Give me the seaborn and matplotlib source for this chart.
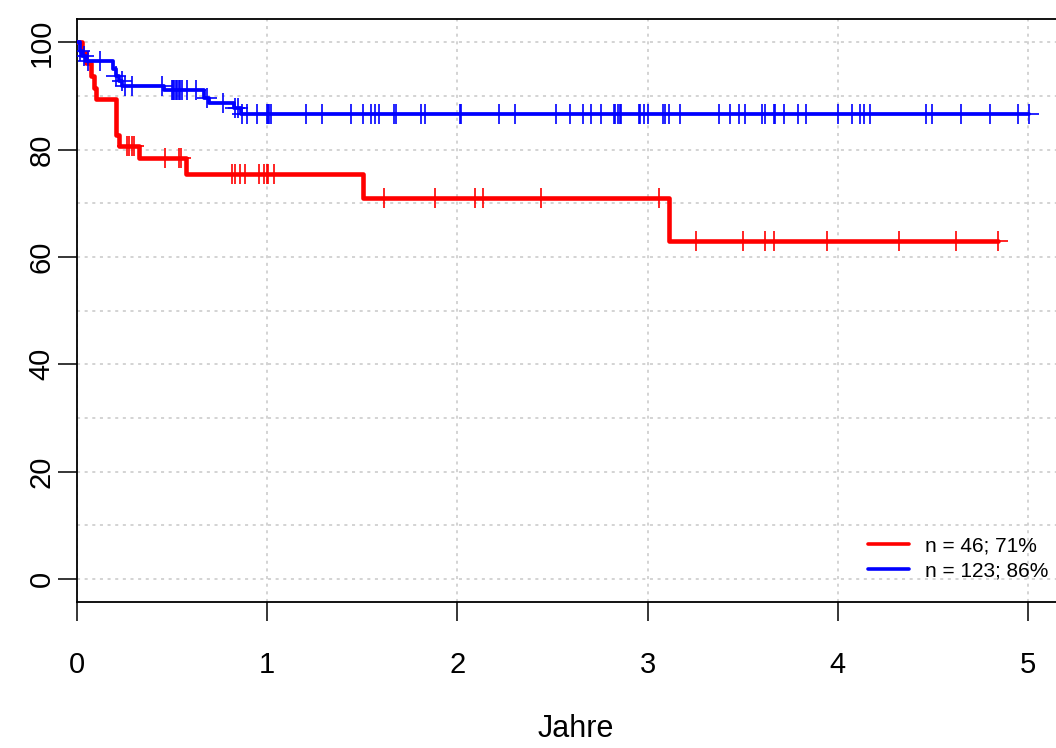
import numpy as np
import pandas as pd
import matplotlib
matplotlib.use("Agg")
import matplotlib.pyplot as plt
import seaborn as sns

# Kaplan-Meier Stufen (Zeit in Jahren, Überleben in %)
red_times = [0, 0.03, 0.047, 0.074, 0.09, 0.10, 0.205, 0.222, 0.327, 0.572, 1.503, 3.11]
red_surv = [100, 98.1, 96.2, 93.7, 91.5, 89.4, 82.8, 80.6, 78.5, 75.4, 71.0, 62.9]
red_cens = [0.266, 0.276, 0.289, 0.301, 0.464, 0.539, 0.55, 0.814, 0.832, 0.858, 0.884,
            0.958, 0.987, 0.998, 1.008, 1.036, 1.617, 1.882, 2.095, 2.136, 2.44, 3.058,
            3.254, 3.5, 3.618, 3.662, 3.942, 4.322, 4.622, 4.84]

blue_times = [0, 0.015, 0.03, 0.05, 0.19, 0.205, 0.22, 0.24, 0.46, 0.667, 0.695, 0.825, 0.866]
blue_surv = [100, 98.4, 97.5, 96.5, 95.0, 93.7, 92.8, 91.8, 91.1, 89.7, 88.7, 87.8, 86.7]
blue_cens = [0.02, 0.04, 0.06, 0.122, 0.209, 0.236, 0.253, 0.289, 0.447, 0.499, 0.507,
             0.514, 0.522, 0.529, 0.537, 0.545, 0.552, 0.578, 0.627, 0.686, 0.77, 0.832,
             0.849, 0.867, 0.893, 0.946, 0.998, 1.005, 1.012, 1.02, 1.203, 1.29, 1.44,
             1.503, 1.547, 1.57, 1.59, 1.667, 1.679, 1.807, 1.828, 2.012, 2.022, 2.218,
             2.302, 2.521, 2.594, 2.661, 2.703, 2.757, 2.822, 2.831, 2.843, 2.854, 2.862,
             2.953, 2.962, 2.979, 3.002, 3.081, 3.09, 3.11, 3.168, 3.374, 3.435, 3.478,
             3.513, 3.6, 3.618, 3.662, 3.671, 3.718, 3.79, 3.834, 3.999, 4.074, 4.118,
             4.139, 4.17, 4.464, 4.494, 4.646, 4.797, 4.949, 5.002]

labels = ["n = 46; 71%", "n = 123; 86%"]
colors = ["#ff0000", "#0000ff"]

sns.set_style("white")
plt.rcParams['font.family'] = ['Liberation Sans', 'DejaVu Sans']
plt.rcParams['text.color'] = 'black'
plt.rcParams['xtick.color'] = 'black'
plt.rcParams['ytick.color'] = 'black'
plt.rcParams['axes.labelcolor'] = 'black'


def km_curve(times, surv, cens):
    # Stufenfunktion bis zur letzten Zensur verlängern
    t_end = max(max(cens), times[-1])
    df = pd.DataFrame({"t": times + [t_end], "s": surv + [surv[-1]]})
    idx = np.searchsorted(times, cens, side="right") - 1
    dc = pd.DataFrame({"t": cens, "s": np.array(surv)[idx]})
    return df, dc


fig = plt.figure(figsize=(10.56, 7.48), dpi=100)
ax = fig.add_axes([0.0726, 0.1952, 0.9461, 0.779])

groups = [(red_times, red_surv, red_cens, 3.3), (blue_times, blue_surv, blue_cens, 2.7)]
for (times, surv, cens, lw), lab, col in zip(groups, labels, colors):
    df, dc = km_curve(times, surv, cens)
    sns.lineplot(data=df, x="t", y="s", drawstyle="steps-post", color=col, lw=lw,
                 estimator=None, sort=False, label=lab, ax=ax, zorder=3)
    sns.scatterplot(data=dc, x="t", y="s", marker="+", s=210, color=col,
                    linewidth=1.2, ax=ax, zorder=4, legend=False)

ax.set_xlim(0, 5.25)
ax.set_ylim(-4.3, 104.3)
ax.set_xticks(range(0, 6))
ax.set_yticks(range(0, 101, 20))
ax.set_yticks(range(0, 101, 10), minor=True)
ax.grid(True, which="both", axis="y", color="#c8c8c8", linestyle=(0, (2, 3)), lw=1.1)
ax.grid(True, which="major", axis="x", color="#c8c8c8", linestyle=(0, (2, 3)), lw=1.1)
ax.tick_params(axis="y", which="minor", length=0, left=False)
ax.tick_params(axis="both", which="major", length=13.5, width=1.1, labelsize=21,
               direction="out", color="black", bottom=True, left=True)
ax.tick_params(axis="x", pad=22)
ax.tick_params(axis="y", pad=1.5)
for lab in ax.get_yticklabels():
    lab.set_rotation(90)
    lab.set_va("center")

for sp in ax.spines.values():
    sp.set_color("black")
    sp.set_linewidth(1.3)

ax.set_xlabel("Jahre", fontsize=22, labelpad=25)
ax.set_ylabel("")

leg = ax.legend(loc="upper left", bbox_to_anchor=(868 / 1056, 1 - 536 / 748),
                bbox_transform=fig.transFigure, frameon=False, fontsize=15,
                handlelength=1.95, handletextpad=0.8, borderpad=0, borderaxespad=0,
                labelspacing=0.32)
for h in leg.get_lines():
    h.set_linewidth(2.6)

fig.savefig("out.png", dpi=100)
